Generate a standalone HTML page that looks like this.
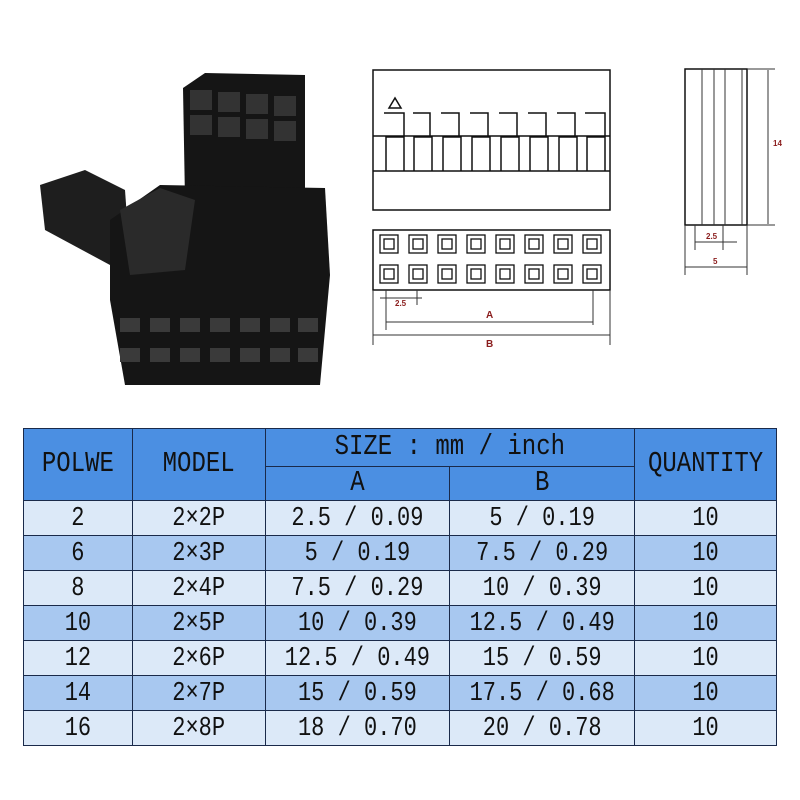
<!DOCTYPE html>
<html><head><style>
body{margin:0;width:800px;height:800px;background:#fff;overflow:hidden;position:relative;font-family:"Liberation Mono",monospace}
table{position:absolute;left:23px;top:428px;border-collapse:collapse;width:754px}
td{border:1.5px solid #1a2a4a;text-align:center;padding:0;font-size:22px;color:#111;white-space:nowrap}
td span{display:inline-block;transform:scaleY(1.2)}
.h span{font-size:24px}
.h{background:#4b8fe2}
.l td{background:#dce9f8}
.d td{background:#a8c8f0}
</style></head><body>
<svg width="800" height="420" style="position:absolute;left:0;top:0">
<g fill="#151515">
<polygon points="183,88 205,73 305,75 305,210 185,200"/>
<polygon points="40,185 85,170 125,190 130,260 110,265 45,230" fill="#1e1e1e"/>
<polygon points="110,220 160,185 325,188 330,275 320,385 125,385 110,300"/>
<polygon points="120,210 160,188 195,200 185,270 130,275" fill="#2a2a2a"/>
</g>
<g fill="#333">
<rect x="190" y="90" width="22" height="20"/><rect x="218" y="92" width="22" height="20"/><rect x="246" y="94" width="22" height="20"/><rect x="274" y="96" width="22" height="20"/>
<rect x="190" y="115" width="22" height="20"/><rect x="218" y="117" width="22" height="20"/><rect x="246" y="119" width="22" height="20"/><rect x="274" y="121" width="22" height="20"/>
</g>
<g fill="#3a3a3a">
<rect x="120" y="318" width="20" height="14"/><rect x="150" y="318" width="20" height="14"/><rect x="180" y="318" width="20" height="14"/><rect x="210" y="318" width="20" height="14"/><rect x="240" y="318" width="20" height="14"/><rect x="270" y="318" width="20" height="14"/><rect x="298" y="318" width="20" height="14"/>
<rect x="120" y="348" width="20" height="14"/><rect x="150" y="348" width="20" height="14"/><rect x="180" y="348" width="20" height="14"/><rect x="210" y="348" width="20" height="14"/><rect x="240" y="348" width="20" height="14"/><rect x="270" y="348" width="20" height="14"/><rect x="298" y="348" width="20" height="14"/>
</g>
<g fill="none" stroke="#111" stroke-width="1.5">
<rect x="373" y="70" width="237" height="140"/>
<line x1="373" y1="136" x2="610" y2="136"/>
<line x1="373" y1="171" x2="610" y2="171"/>
<path d="M384,113 h20 v23 M413,113 h17 v23 M441,113 h18 v23 M470,113 h18 v23 M499,113 h18 v23 M528,113 h18 v23 M557,113 h18 v23 M585,113 h20 v23"/>
<path d="M386,171 v-34 h18 v34 M414,171 v-34 h18 v34 M443,171 v-34 h18 v34 M472,171 v-34 h18 v34 M501,171 v-34 h18 v34 M530,171 v-34 h18 v34 M559,171 v-34 h18 v34 M587,171 v-34 h18 v34"/>
<polygon points="389,108 395,98 401,108"/>
<rect x="373" y="230" width="237" height="60"/>
</g>
<g fill="none" stroke="#111" stroke-width="1.3">
<rect x="380" y="235" width="18" height="18"/><rect x="409" y="235" width="18" height="18"/><rect x="438" y="235" width="18" height="18"/><rect x="467" y="235" width="18" height="18"/><rect x="496" y="235" width="18" height="18"/><rect x="525" y="235" width="18" height="18"/><rect x="554" y="235" width="18" height="18"/><rect x="583" y="235" width="18" height="18"/>
<rect x="380" y="265" width="18" height="18"/><rect x="409" y="265" width="18" height="18"/><rect x="438" y="265" width="18" height="18"/><rect x="467" y="265" width="18" height="18"/><rect x="496" y="265" width="18" height="18"/><rect x="525" y="265" width="18" height="18"/><rect x="554" y="265" width="18" height="18"/><rect x="583" y="265" width="18" height="18"/>
<rect x="384" y="239" width="10" height="10"/><rect x="413" y="239" width="10" height="10"/><rect x="442" y="239" width="10" height="10"/><rect x="471" y="239" width="10" height="10"/><rect x="500" y="239" width="10" height="10"/><rect x="529" y="239" width="10" height="10"/><rect x="558" y="239" width="10" height="10"/><rect x="587" y="239" width="10" height="10"/>
<rect x="384" y="269" width="10" height="10"/><rect x="413" y="269" width="10" height="10"/><rect x="442" y="269" width="10" height="10"/><rect x="471" y="269" width="10" height="10"/><rect x="500" y="269" width="10" height="10"/><rect x="529" y="269" width="10" height="10"/><rect x="558" y="269" width="10" height="10"/><rect x="587" y="269" width="10" height="10"/>
</g>
<g stroke="#333" stroke-width="1" fill="none">
<line x1="386" y1="290" x2="386" y2="305"/><line x1="417" y1="290" x2="417" y2="305"/>
<line x1="380" y1="298" x2="422" y2="298"/>
<line x1="386" y1="290" x2="386" y2="330"/><line x1="593" y1="290" x2="593" y2="325"/>
<line x1="386" y1="322" x2="593" y2="322"/>
<line x1="373" y1="290" x2="373" y2="345"/><line x1="610" y1="290" x2="610" y2="345"/>
<line x1="373" y1="335" x2="610" y2="335"/>
<rect x="685" y="69" width="62" height="156" stroke="#111" stroke-width="1.5"/>
<line x1="702" y1="69" x2="702" y2="225"/><line x1="714" y1="69" x2="714" y2="225"/>
<line x1="725" y1="69" x2="725" y2="225"/><line x1="742" y1="69" x2="742" y2="225"/>
<line x1="747" y1="69" x2="775" y2="69"/><line x1="747" y1="225" x2="775" y2="225"/>
<line x1="768" y1="70" x2="768" y2="224"/>
<line x1="695" y1="225" x2="695" y2="250"/><line x1="723" y1="225" x2="723" y2="250"/>
<line x1="695" y1="242" x2="737" y2="242"/>
<line x1="685" y1="225" x2="685" y2="275"/><line x1="747" y1="225" x2="747" y2="275"/>
<line x1="685" y1="267" x2="747" y2="267"/>
</g>
<g fill="#8a1c1c" font-family="Liberation Sans,sans-serif" font-weight="bold" font-size="8">
<text x="395" y="306">2.5</text><text x="486" y="318" font-size="10">A</text><text x="486" y="347" font-size="10">B</text>
<text x="773" y="146">14</text><text x="706" y="239">2.5</text><text x="713" y="264">5</text>
</g>
</svg>
<table>
<colgroup><col style="width:109px"><col style="width:133px"><col style="width:185px"><col style="width:185px"><col style="width:142px"></colgroup>
<tr style="height:38px"><td rowspan="2" class="h"><span>POLWE</span></td><td rowspan="2" class="h"><span>MODEL</span></td><td colspan="2" class="h"><span>SIZE : mm / inch</span></td><td rowspan="2" class="h"><span>QUANTITY</span></td></tr>
<tr style="height:34px"><td class="h"><span>A</span></td><td class="h"><span>B</span></td></tr>
<tr class="l" style="height:35px"><td><span>2</span></td><td><span>2×2P</span></td><td><span>2.5 / 0.09</span></td><td><span>5 / 0.19</span></td><td><span>10</span></td></tr>
<tr class="d" style="height:35px"><td><span>6</span></td><td><span>2×3P</span></td><td><span>5 / 0.19</span></td><td><span>7.5 / 0.29</span></td><td><span>10</span></td></tr>
<tr class="l" style="height:35px"><td><span>8</span></td><td><span>2×4P</span></td><td><span>7.5 / 0.29</span></td><td><span>10 / 0.39</span></td><td><span>10</span></td></tr>
<tr class="d" style="height:35px"><td><span>10</span></td><td><span>2×5P</span></td><td><span>10 / 0.39</span></td><td><span>12.5 / 0.49</span></td><td><span>10</span></td></tr>
<tr class="l" style="height:35px"><td><span>12</span></td><td><span>2×6P</span></td><td><span>12.5 / 0.49</span></td><td><span>15 / 0.59</span></td><td><span>10</span></td></tr>
<tr class="d" style="height:35px"><td><span>14</span></td><td><span>2×7P</span></td><td><span>15 / 0.59</span></td><td><span>17.5 / 0.68</span></td><td><span>10</span></td></tr>
<tr class="l" style="height:35px"><td><span>16</span></td><td><span>2×8P</span></td><td><span>18 / 0.70</span></td><td><span>20 / 0.78</span></td><td><span>10</span></td></tr>
</table>
</body></html>
